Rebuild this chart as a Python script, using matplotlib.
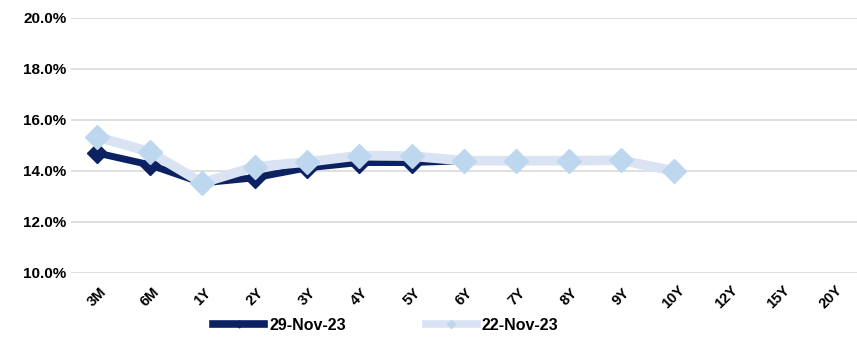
import numpy as np
import matplotlib.pyplot as plt
from matplotlib.ticker import PercentFormatter

tenors = ["3M", "6M", "1Y", "2Y", "3Y", "4Y", "5Y", "6Y", "7Y", "8Y", "9Y", "10Y", "12Y", "15Y", "20Y"]
yield_29nov = [14.70, 14.24, 13.53, 13.73, 14.12, 14.33, 14.33, 14.40, 14.40, 14.40, 14.45, 14.00,
               np.nan, np.nan, np.nan]
yield_22nov = [15.33, 14.75, 13.53, 14.16, 14.35, 14.60, 14.58, 14.40, 14.40, 14.40, 14.42, 14.00,
               np.nan, np.nan, np.nan]

plt.rcParams['font.family'] = ['Liberation Sans', 'DejaVu Sans']
plt.rcParams['font.weight'] = 'bold'

fig = plt.figure(figsize=(8.57, 3.37), dpi=100)
ax = fig.add_axes([0.083, 0.19, 0.917, 0.757])

x = np.arange(len(tenors))
ax.plot(x, yield_29nov, color="#0b2161", lw=5, marker="D", ms=10,
        markeredgecolor="#0b2161", label="29-Nov-23", zorder=3)
ax.plot(x, yield_22nov, color="#dae3f3", lw=7, marker="D", ms=12,
        markerfacecolor="#bdd7ee", markeredgecolor="#bdd7ee", label="22-Nov-23", zorder=4)

ax.set_xlim(-0.5, len(tenors) - 0.5)
ax.set_ylim(10, 20)
ax.set_yticks(np.arange(10, 20.1, 2))
ax.yaxis.set_major_formatter(PercentFormatter(decimals=1))
ax.grid(axis="y", color="#d9d9d9", lw=1.2)
ax.set_axisbelow(True)
for s in ["top", "right", "left", "bottom"]:
    ax.spines[s].set_visible(False)
ax.tick_params(length=0, labelsize=11)
ax.tick_params(axis="x", pad=17, labelsize=10.5)
ax.set_xticks(x)
ax.set_xticklabels(tenors, rotation=45, ha="center", va="center")

leg = fig.legend(loc="center", bbox_to_anchor=(0.45, 0.035), ncol=2, frameon=False,
                 fontsize=11.5, handlelength=3.2, handletextpad=0.3, columnspacing=5,
                 markerscale=0.35)
for line in leg.get_lines():
    line.set_linewidth(5.5)

fig.savefig("out.png", dpi=100)
